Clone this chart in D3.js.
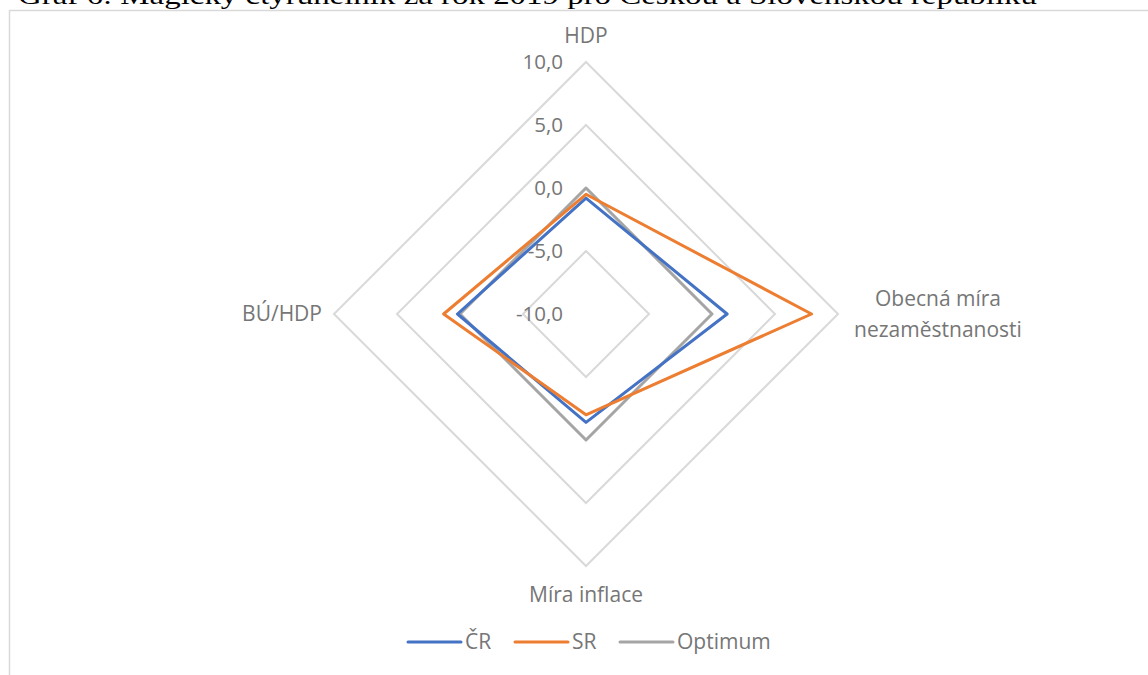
<!DOCTYPE html>
<html><head><meta charset="utf-8">
<script src="https://cdn.jsdelivr.net/npm/d3@7"></script>
<style>html,body{margin:0;padding:0;background:#fff;overflow:hidden}</style>
</head><body>
<svg id="c" width="1148" height="675"></svg>
<script>
const categories = ["HDP", "Obecná míra nezaměstnanosti", "Míra inflace", "BÚ/HDP"];
const categoryLines = [["HDP"], ["Obecná míra", "nezaměstnanosti"], ["Míra inflace"], ["BÚ/HDP"]];
const seriesNames = ["ČR", "SR", "Optimum"];
const valuesCR = [-0.8, 1.2, -1.4, 0.2];
const valuesSR = [-0.5, 7.9, -2.0, 1.3];
const valuesOptimum = [0, 0, 0, 0];
const tickValues = [-10, -5, 0, 5, 10];
const tickLabels = ["-10,0", "-5,0", "0,0", "5,0", "10,0"];
const colors = ["#4472C4", "#ED7D31", "#A5A5A5"];
const titleText = "Graf 6: Magický čtyřúhelník za rok 2019 pro Českou a Slovenskou republiku";

const svg = d3.select("#c");
const font = "'Open Sans', Lato, sans-serif";
const textColor = "#767676";

// partially visible title above the chart box
svg.append("text").attr("x", 18).attr("y", 4)
  .attr("font-family", "'Liberation Serif', 'Times New Roman', serif")
  .attr("font-size", 26).attr("fill", "#000")
  .attr("textLength", 1019).attr("lengthAdjust", "spacingAndGlyphs")
  .text(titleText);

// chart area border
svg.append("rect").attr("x", 9.5).attr("y", 10.5).attr("width", 1300).attr("height", 800)
  .attr("fill", "none").attr("stroke", "#D9D9D9").attr("stroke-width", 1.5);

const cx = 586, cy = 314, R = 252;
const r = d3.scaleLinear().domain([-10, 10]).range([0, R]);
const angle = d3.scalePoint().domain(categories).range([0, 2 * Math.PI * 3 / 4]);

const g = svg.append("g").attr("transform", `translate(${cx},${cy})`);

const radial = d3.lineRadial()
  .angle(d => angle(d.cat))
  .radius(d => r(d.v))
  .curve(d3.curveLinearClosed);

// grid rings
tickValues.filter(t => t > -10).forEach(t => {
  g.append("path")
    .attr("d", radial(categories.map(c => ({cat: c, v: t}))))
    .attr("fill", "none").attr("stroke", "#D9D9D9").attr("stroke-width", 2);
});

// tick labels
tickValues.forEach((t, i) => {
  g.append("text").attr("x", -23).attr("y", -r(t))
    .attr("dy", "0.35em").attr("text-anchor", "end")
    .attr("font-family", font).attr("font-size", 20.5).attr("fill", textColor)
    .text(tickLabels[i]);
});

// series
const seriesValues = [valuesCR, valuesSR, valuesOptimum];
const drawOrder = [2, 0, 1];
drawOrder.forEach(si => {
  g.append("path")
    .attr("d", radial(categories.map((c, k) => ({cat: c, v: seriesValues[si][k]}))))
    .attr("fill", "none").attr("stroke", colors[si]).attr("stroke-width", 3)
    .attr("stroke-linejoin", "round");
});

// category labels
const labelPos = [
  {x: 0, y: -278, anchor: "middle"},
  {x: 352, y: 0, anchor: "middle"},
  {x: 0, y: 281, anchor: "middle"},
  {x: -264, y: 0, anchor: "end"}
];
categoryLines.forEach((lines, i) => {
  const p = labelPos[i];
  const lh = 31;
  const t = g.append("text").attr("text-anchor", p.anchor)
    .attr("font-family", font).attr("font-size", 21).attr("fill", textColor);
  lines.forEach((ln, j) => {
    t.append("tspan").attr("x", p.x)
      .attr("y", p.y + (j - (lines.length - 1) / 2) * lh)
      .attr("dy", "0.35em").text(ln);
  });
});

// legend
const legendX = [408, 515, 620];
const legendY = 642;
seriesNames.forEach((n, i) => {
  const lg = svg.append("g").attr("transform", `translate(${legendX[i]},${legendY})`);
  lg.append("line").attr("x1", 0).attr("x2", 53).attr("y1", 0).attr("y2", 0)
    .attr("stroke", colors[i]).attr("stroke-width", 3).attr("stroke-linecap", "round");
  lg.append("text").attr("x", 57).attr("y", 0).attr("dy", "0.35em")
    .attr("font-family", font).attr("font-size", 21).attr("fill", textColor).text(n);
});
</script>
</body></html>
